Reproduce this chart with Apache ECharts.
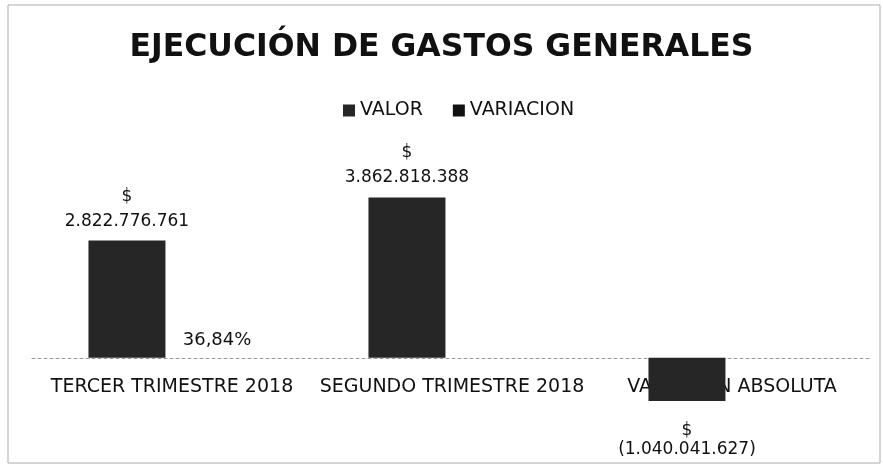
<!DOCTYPE html>
<html lang="es">
<head>
    <meta charset="UTF-8">
    <title>Ejecución de gastos generales</title>
    <script src="https://cdn.jsdelivr.net/npm/echarts@6/dist/echarts.min.js"></script>
    <style>
        html, body { margin: 0; padding: 0; background: #fff; }
        #chart { width: 883px; height: 469px; }
    </style>
</head>
<body>
    <div id="chart"></div>
    <script>
        // datos
        var categorias = ['TERCER TRIMESTRE 2018', 'SEGUNDO TRIMESTRE 2018', 'VARIACIÓN ABSOLUTA'];
        var valor = [2822776761, 3862818388, -1040041627];
        var variacion = [0.3684, null, null];

        function miles(v) {
            return Math.abs(v).toString().replace(/\B(?=(\d{3})+(?!\d))/g, '.');
        }

        // los negativos llevan la etiqueta debajo de la barra
        var valorData = valor.map(function (v) {
            if (v < 0) {
                return { value: v, label: { position: 'bottom', distance: 20, lineHeight: 19 } };
            }
            return v;
        });

        var myChart = echarts.init(document.getElementById('chart'));
        var option = {
            backgroundColor: '#fff',
            animation: false,
            graphic: [{
                type: 'rect',
                shape: { x: 8, y: 5, width: 872, height: 458 },
                style: { fill: 'none', stroke: '#aaa', lineWidth: 1 }
            }],
            title: {
                text: 'EJECUCIÓN DE GASTOS GENERALES',
                left: 'center',
                top: 27,
                textStyle: { fontFamily: 'DejaVu Sans', fontWeight: 'bold', fontSize: 31.5, color: '#111' }
            },
            legend: {
                top: 96,
                left: 338,
                icon: 'rect',
                itemWidth: 12,
                itemHeight: 12,
                itemGap: 30,
                textStyle: { fontFamily: 'DejaVu Sans', fontSize: 19, color: '#111' },
                data: ['VALOR', 'VARIACION']
            },
            grid: { left: 32, right: 11, top: 171, bottom: 49 },
            xAxis: {
                type: 'category',
                data: categorias,
                axisTick: { show: false },
                axisLine: { show: true, onZero: true, lineStyle: { color: '#999', type: [3, 3] } },
                axisLabel: { fontFamily: 'DejaVu Sans', fontSize: 19, color: '#111', margin: -42, interval: 0 }
            },
            yAxis: {
                type: 'value',
                min: -1500000000,
                max: 4500000000,
                show: false,
                splitLine: { show: false }
            },
            series: [{
                name: 'VALOR',
                type: 'bar',
                data: valorData,
                barWidth: 77,
                barGap: '17%',
                itemStyle: { color: '#262626' },
                label: {
                    show: true,
                    position: 'top',
                    distance: 7,
                    fontFamily: 'DejaVu Sans',
                    fontSize: 17,
                    lineHeight: 25,
                    color: '#111',
                    formatter: function (p) {
                        return p.value < 0 ? '$\n(' + miles(p.value) + ')' : '$\n' + miles(p.value);
                    }
                }
            }, {
                name: 'VARIACION',
                type: 'bar',
                data: variacion,
                barWidth: 77,
                itemStyle: { color: '#111' },
                label: {
                    show: true,
                    position: 'top',
                    distance: 8,
                    fontFamily: 'DejaVu Sans',
                    fontSize: 18,
                    color: '#111',
                    formatter: function (p) {
                        return (p.value * 100).toFixed(2).replace('.', ',') + '%';
                    }
                }
            }]
        };
        myChart.setOption(option);
    </script>
</body>
</html>
